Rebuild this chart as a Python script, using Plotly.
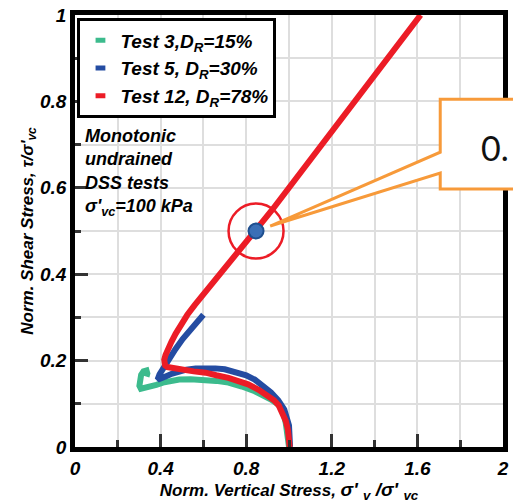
import plotly.graph_objects as go

# Normalised stress paths from monotonic undrained DSS tests
green_x = [1.0, 0.995, 0.985, 0.97, 0.945, 0.916, 0.88, 0.84, 0.78, 0.717, 0.66, 0.595, 0.54, 0.487,
           0.44, 0.411, 0.38, 0.349, 0.325, 0.308, 0.301, 0.303, 0.309, 0.320, 0.334, 0.338, 0.334]
green_y = [0.0, 0.025, 0.055, 0.087, 0.100, 0.110, 0.120, 0.129, 0.140, 0.149, 0.153, 0.156, 0.157, 0.156,
           0.153, 0.149, 0.144, 0.139, 0.135, 0.135, 0.142, 0.155, 0.167, 0.175, 0.177, 0.170, 0.163]

blue_x = [1.005, 1.006, 1.0, 0.978, 0.95, 0.916, 0.88, 0.84, 0.80, 0.748, 0.70, 0.656, 0.61, 0.564,
          0.52, 0.487, 0.455, 0.426, 0.405, 0.388, 0.386, 0.395, 0.415, 0.441, 0.47, 0.503, 0.535,
          0.564, 0.585, 0.600]
blue_y = [0.0, 0.025, 0.05, 0.087, 0.108, 0.126, 0.142, 0.156, 0.166, 0.175, 0.180, 0.182, 0.183, 0.182,
          0.179, 0.175, 0.170, 0.164, 0.159, 0.154, 0.156, 0.168, 0.185, 0.205, 0.227, 0.250, 0.270,
          0.287, 0.298, 0.306]

red_x = [1.003, 1.001, 0.995, 0.985, 0.97, 0.952, 0.93, 0.901, 0.86, 0.809, 0.76, 0.717, 0.66, 0.61,
         0.555, 0.503, 0.47, 0.449, 0.432, 0.421, 0.416, 0.417, 0.423, 0.434, 0.45, 0.47, 0.495,
         0.525, 0.56, 0.60, 0.667, 0.75, 0.846, 0.92, 1.0, 1.146, 1.292, 1.45, 1.615]
red_y = [0.0, 0.02, 0.04, 0.06, 0.08, 0.096, 0.108, 0.119, 0.132, 0.145, 0.154, 0.160, 0.166, 0.172,
         0.175, 0.178, 0.180, 0.182, 0.185, 0.189, 0.195, 0.202, 0.213, 0.227, 0.243, 0.262, 0.283,
         0.306, 0.329, 0.353, 0.393, 0.443, 0.50, 0.548, 0.60, 0.695, 0.79, 0.893, 1.0]

series = [
    ("Test 3,D<sub>R</sub>=15%", green_x, green_y, "#3cbb8d"),
    ("Test 5, D<sub>R</sub>=30%", blue_x, blue_y, "#244ca2"),
    ("Test 12, D<sub>R</sub>=78%", red_x, red_y, "#ec1c26"),
]

# highlighted point on the Test 12 path
point_x = [0.846]
point_y = [0.50]
callout_text = "0."

FONT = "Liberation Sans, Arial, sans-serif"
BOLD_IT = dict(weight="bold", style="italic")

fig = go.Figure()

for name, xs, ys, color in series:
    fig.add_trace(go.Scatter(
        x=xs, y=ys, mode="lines", showlegend=False, hoverinfo="skip",
        line=dict(color=color, width=6),
    ))

# short-dash legend keys
for name, xs, ys, color in series:
    fig.add_trace(go.Scatter(
        x=[None], y=[None], mode="markers", name=name,
        marker=dict(symbol="line-ew", size=7, color=color,
                    line=dict(color=color, width=5)),
    ))

# ring and dot marking the selected point
fig.add_trace(go.Scatter(
    x=point_x, y=point_y, mode="markers", showlegend=False,
    marker=dict(symbol="circle-open", size=55, color="#ec1c26", line=dict(width=2.5, color="#ec1c26")),
))
fig.add_trace(go.Scatter(
    x=point_x, y=point_y, mode="markers", showlegend=False,
    marker=dict(symbol="circle", size=15, color="#3b6fb6", line=dict(width=2, color="#1f4f8f")),
))

# plot-area geometry in pixels (for paper-coordinate overlays)
L, R, T, B = 75.5, 508.5, 14.5, 447.5


def px(xp):
    return (xp - L) / (R - L)


def py(yp):
    return (B - yp) / (B - T)


# white panel behind the test description
fig.add_shape(type="rect", xref="paper", yref="paper",
              x0=px(77), x1=px(217), y0=py(216), y1=py(118),
              fillcolor="white", line=dict(width=0), layer="between")

# orange callout box pointing to the selected point
tip = (273, 226)
path = (f"M {px(tip[0])},{py(tip[1])} L {px(445)},{py(173)} L {px(445)},{py(189)} "
        f"L {px(570)},{py(189)} L {px(570)},{py(99)} L {px(445)},{py(99)} "
        f"L {px(445)},{py(152)} Z")
fig.add_shape(type="path", xref="paper", yref="paper", path=path,
              fillcolor="white", line=dict(color="#f79a3a", width=3), layer="above")

fig.add_annotation(xref="paper", yref="paper", x=px(484), y=py(147),
                   xanchor="left", yanchor="middle", showarrow=False,
                   text=callout_text, font=dict(family="Lato, Open Sans, sans-serif", size=34, color="#111111"))

fig.add_annotation(xref="paper", yref="paper", x=px(84), y=py(124),
                   xanchor="left", yanchor="top", align="left", showarrow=False,
                   text="Monotonic<br>undrained<br>DSS tests<br>σ'<sub>vc</sub>=100 kPa",
                   font=dict(family=FONT, size=18, color="black", **BOLD_IT))

axis_common = dict(
    showline=True, linecolor="black", linewidth=4.5, mirror=True,
    ticks="inside", tickcolor="#333333", tickwidth=2.5,
    showgrid=True, gridcolor="#dedede", gridwidth=1.5, zeroline=False,
    tickfont=dict(family=FONT, size=19, color="black", **BOLD_IT),
    title_font=dict(family=FONT, size=17, color="black", **BOLD_IT),
)

fig.update_xaxes(
    range=[0, 2], dtick=0.4, tick0=0, ticklen=13,
    minor=dict(dtick=0.2, ticks="inside", ticklen=7, tickcolor="#333333", tickwidth=2.5,
               showgrid=True, gridcolor="#dedede", gridwidth=1.5),
    title=dict(text="Norm. Vertical Stress, <span style='font-size:19px'>σ' <sub>v</sub> /σ' <sub>vc</sub></span>",
               standoff=0),
    **axis_common,
)
fig.update_yaxes(
    range=[0, 1], dtick=0.2, tick0=0, ticklen=13,
    minor=dict(dtick=0.1, ticks="inside", ticklen=6, tickcolor="#333333", tickwidth=2.5,
               showgrid=True, gridcolor="#dedede", gridwidth=1.5),
    title=dict(text="Norm. Shear Stress, τ/σ'<sub>vc</sub>", standoff=4),
    **axis_common,
)

fig.update_layout(
    width=513, height=503,
    margin=dict(l=int(L), r=513 - int(R), t=int(T), b=503 - int(B)),
    paper_bgcolor="white", plot_bgcolor="white",
    showlegend=True,
    legend=dict(
        x=px(78), y=py(18), xanchor="left", yanchor="top",
        bgcolor="white", bordercolor="black", borderwidth=3,
        font=dict(family=FONT, size=19, color="black", **BOLD_IT),
        itemsizing="trace", itemwidth=30, tracegroupgap=0,
    ),
)

fig.write_html("out.html")
